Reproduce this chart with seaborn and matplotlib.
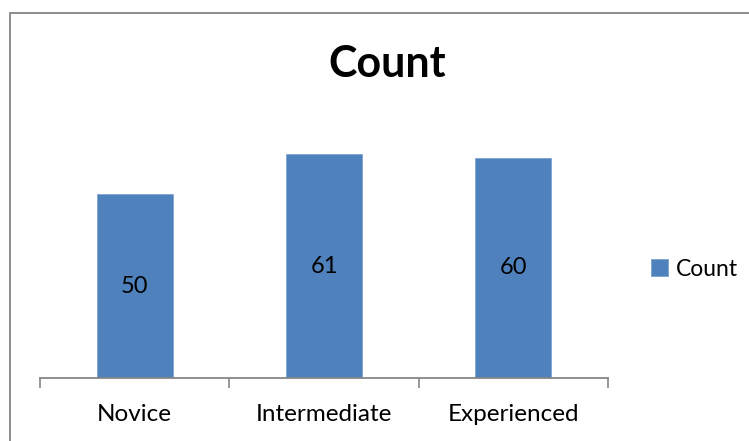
import matplotlib
matplotlib.use("Agg")
import matplotlib.pyplot as plt
import seaborn as sns
import pandas as pd
from matplotlib.patches import Rectangle

categories = ["Novice", "Intermediate", "Experienced"]
counts = [50, 61, 60]
series_name = "Count"
title_text = "Count"

df = pd.DataFrame({"Level": categories, "Count": counts, "Series": [series_name] * len(categories)})

sns.set_theme(style="white")
plt.rcParams["font.family"] = ["Lato", "DejaVu Sans"]
plt.rcParams["text.color"] = "black"

W, H = 749, 441
fig = plt.figure(figsize=(W / 100, H / 100), dpi=100)
ax = fig.add_axes([40 / W, 1 - 378 / H, (608 - 40) / W, (378 - 121) / H])

bar_color = "#4F81BD"
sns.barplot(data=df, x="Level", y="Count", hue="Series", palette=[bar_color],
            width=0.40, ax=ax, edgecolor="#7FA3D3", linewidth=0.6, saturation=1)

ax.set_ylim(0, 70)
ax.set_xlim(-0.5, 2.5)
ax.set_xlabel("")
ax.set_ylabel("")
ax.set_yticks([])
for s in ["top", "right", "left"]:
    ax.spines[s].set_visible(False)
ax.spines["bottom"].set_color("#868686")
ax.spines["bottom"].set_linewidth(1.3)

# boundary ticks (major) and centered labels (minor)
ax.set_xticks([-0.5, 0.5, 1.5, 2.5])
ax.set_xticklabels([])
ax.set_xticks([0, 1, 2], minor=True)
ax.set_xticklabels(categories, minor=True, fontsize=17.5, color="black")
ax.tick_params(axis="x", which="major", direction="out", length=7, width=1.2, color="#868686", bottom=True)
ax.tick_params(axis="x", which="minor", length=0, pad=18.5)

# value labels centered in bars
for c in ax.containers:
    ax.bar_label(c, labels=[str(v) for v in counts], label_type="center", fontsize=17, color="black")

# legend
leg = ax.get_legend()
if leg is not None:
    leg.remove()
handles, labels = ax.get_legend_handles_labels()
fig.legend(handles, labels, loc="center left", bbox_to_anchor=(651 / W, 1 - 269 / H),
           frameon=False, fontsize=16.5, handlelength=0.72, handleheight=0.72,
           handletextpad=0.35, borderaxespad=0, borderpad=0, labelcolor="black")

fig.text(387 / W, 1 - 64 / H, title_text, ha="center", va="center", fontsize=31,
         fontweight="bold", color="black")

# chart-area border
fig.patches.append(Rectangle((10 / W, -0.1), 1.2, 1 - 13 / H + 0.1, transform=fig.transFigure,
                             fill=False, edgecolor="#868686", linewidth=1.3))

fig.savefig("out.png", dpi=100)
